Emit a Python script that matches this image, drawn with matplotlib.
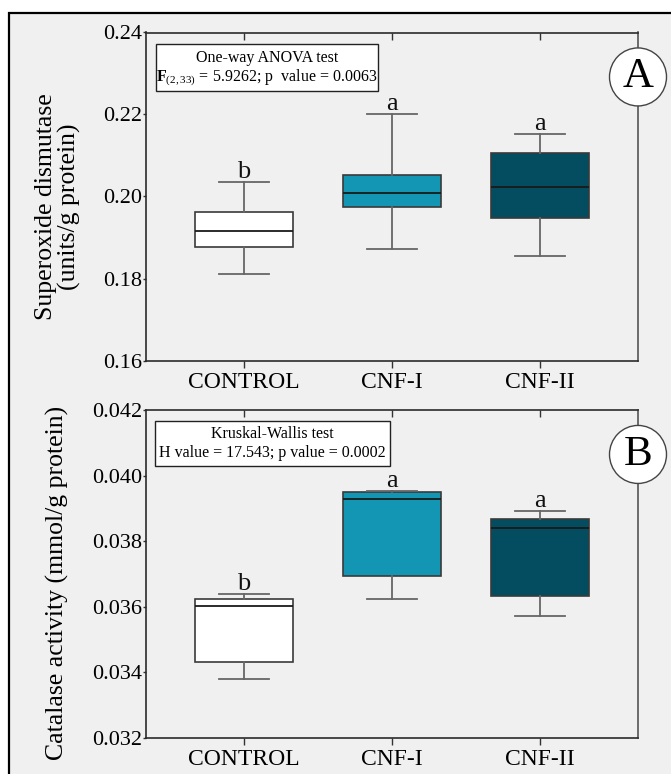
import matplotlib
matplotlib.use("Agg")
import matplotlib.pyplot as plt
from matplotlib.patches import Rectangle, Ellipse
from matplotlib.ticker import FormatStrFormatter

plt.rcParams['font.family'] = ['Liberation Serif', 'DejaVu Serif']
plt.rcParams['mathtext.fontset'] = 'custom'
plt.rcParams['mathtext.rm'] = 'Liberation Serif'
plt.rcParams['mathtext.bf'] = 'Liberation Serif:bold'
plt.rcParams['mathtext.it'] = 'Liberation Serif:italic'

# ---------------- data ----------------
groups = ["CONTROL", "CNF-I", "CNF-II"]
box_colors = ["#ffffff", "#1396b3", "#044c5f"]

# Panel A: Superoxide dismutase (units/g protein)
sod_whislo = [0.1812, 0.1872, 0.1854]
sod_q1 = [0.1878, 0.1974, 0.1948]
sod_med = [0.1915, 0.2009, 0.2022]
sod_q3 = [0.1963, 0.2053, 0.2105]
sod_whishi = [0.2035, 0.2201, 0.2153]
sod_letters = ["b", "a", "a"]
sod_yticks = [0.16, 0.18, 0.20, 0.22, 0.24]

# Panel B: Catalase activity (mmol/g protein)
cat_whislo = [0.03379, 0.03623, 0.03572]
cat_q1 = [0.03433, 0.03693, 0.03632]
cat_med = [0.03602, 0.03928, 0.03840]
cat_q3 = [0.03623, 0.03951, 0.03868]
cat_whishi = [0.03638, 0.03953, 0.03892]
cat_letters = ["b", "a", "a"]
cat_yticks = [0.032, 0.034, 0.036, 0.038, 0.040, 0.042]

W, H = 671, 774
fig = plt.figure(figsize=(W / 100, H / 100), dpi=100, facecolor="white")

# outer frame (gray background with black top/left border)
fig.patches.append(Rectangle((8.5 / W, -0.02), 1.2, 1 - 12.5 / H + 0.02,
                             transform=fig.transFigure, facecolor="#f0f0f0",
                             edgecolor="black", linewidth=1.6, zorder=-5))


def panel(rect, whislo, q1, med, q3, whishi, letters, yticks, fmt,
          label_letter, stat_lines, stat_box, ylabel, ylabel_xy):
    ax = fig.add_axes(rect)
    ax.set_facecolor("#f0f0f0")
    stats = []
    for i, g in enumerate(groups):
        stats.append(dict(label=g, whislo=whislo[i], q1=q1[i], med=med[i],
                          q3=q3[i], whishi=whishi[i], fliers=[]))
    bp = ax.bxp(stats, positions=[0, 1, 2], widths=0.667, patch_artist=True,
                showfliers=False,
                boxprops=dict(edgecolor="#3a3a3a", linewidth=1.2),
                whiskerprops=dict(color="#666666", linewidth=1.3),
                capprops=dict(color="#666666", linewidth=1.3),
                medianprops=dict(color="#1a1a1a", linewidth=1.3))
    for patch, c in zip(bp["boxes"], box_colors):
        patch.set_facecolor(c)
    for i, t in enumerate(letters):
        ax.annotate(t, xy=(i, whishi[i]), xytext=(0, 3), textcoords="offset points",
                    ha="center", va="baseline", fontsize=19, color="#111111")
    ax.set_xlim(-0.662, 2.662)
    ax.set_ylim(yticks[0], yticks[-1])
    ax.set_yticks(yticks)
    ax.yaxis.set_major_formatter(FormatStrFormatter(fmt))
    ax.set_xticks([0, 1, 2])
    ax.set_xticklabels(groups)
    ax.tick_params(axis="x", which="major", direction="out", length=5, width=1,
                   color="#333333", labelsize=17, pad=3, top=True)
    ax.tick_params(axis="x", which="major", top=True, labeltop=False)
    for t in ax.xaxis.get_major_ticks():
        t.tick2line.set_marker(3)  # downward (inside) tick on top
        t.tick2line.set_markersize(5)
    ax.tick_params(axis="y", direction="out", length=2, width=1,
                   color="#333333", labelsize=16, pad=1)
    for s in ax.spines.values():
        s.set_color("#2a2a2a")
        s.set_linewidth(1.2)
    ax.spines["right"].set_color("#555555")

    # statistics box
    x0, y0, x1, y1 = stat_box
    fig.patches.append(Rectangle((x0 / W, 1 - y1 / H), (x1 - x0) / W, (y1 - y0) / H,
                                 transform=fig.transFigure, facecolor="white",
                                 edgecolor="#222222", linewidth=1.0, zorder=3))
    xc = (x0 + x1) / 2 / W
    fig.text(xc, 1 - stat_lines[0][1] / H, stat_lines[0][0], ha="center", va="center",
             fontsize=11.5, zorder=4)
    fig.text(xc, 1 - stat_lines[1][1] / H, stat_lines[1][0], ha="center", va="center",
             fontsize=11.5, zorder=4)

    # panel letter in circle
    ax.add_patch(Ellipse((1.0, 0.8645), 57 / (rect[2] * W), 58 / (rect[3] * H),
                         transform=ax.transAxes, facecolor="white",
                         edgecolor="#444444", linewidth=1.0, clip_on=False, zorder=5))
    ax.text(1.0, 0.8645, label_letter, transform=ax.transAxes, ha="center",
            va="center", fontsize=31, zorder=6)

    fig.text(ylabel_xy[0] / W, 1 - ylabel_xy[1] / H, ylabel, rotation=90,
             ha="center", va="center", fontsize=18.5, linespacing=1.1,
             multialignment="center")
    return ax


panel([146 / W, 1 - 360.5 / H, 492 / W, 328 / H],
      sod_whislo, sod_q1, sod_med, sod_q3, sod_whishi, sod_letters,
      sod_yticks, "%.2f", "A",
      [("One-way ANOVA test", 58.5),
       (r"$\mathbf{F}_{\mathrm{(2,33)}}$ = 5.9262; p  value = 0.0063", 78)],
      (156, 43.5, 378, 90.5),
      "Superoxide dismutase\n(units/g protein)", (58, 207))

panel([146 / W, 1 - 738 / H, 492 / W, 328 / H],
      cat_whislo, cat_q1, cat_med, cat_q3, cat_whishi, cat_letters,
      cat_yticks, "%.3f", "B",
      [("Kruskal-Wallis test", 434.5),
       ("H value = 17.543; p value = 0.0002", 453)],
      (155, 420.5, 390, 466),
      "Catalase activity (mmol/g protein)", (57, 583))

fig.savefig("out.png", dpi=100, facecolor="white")
